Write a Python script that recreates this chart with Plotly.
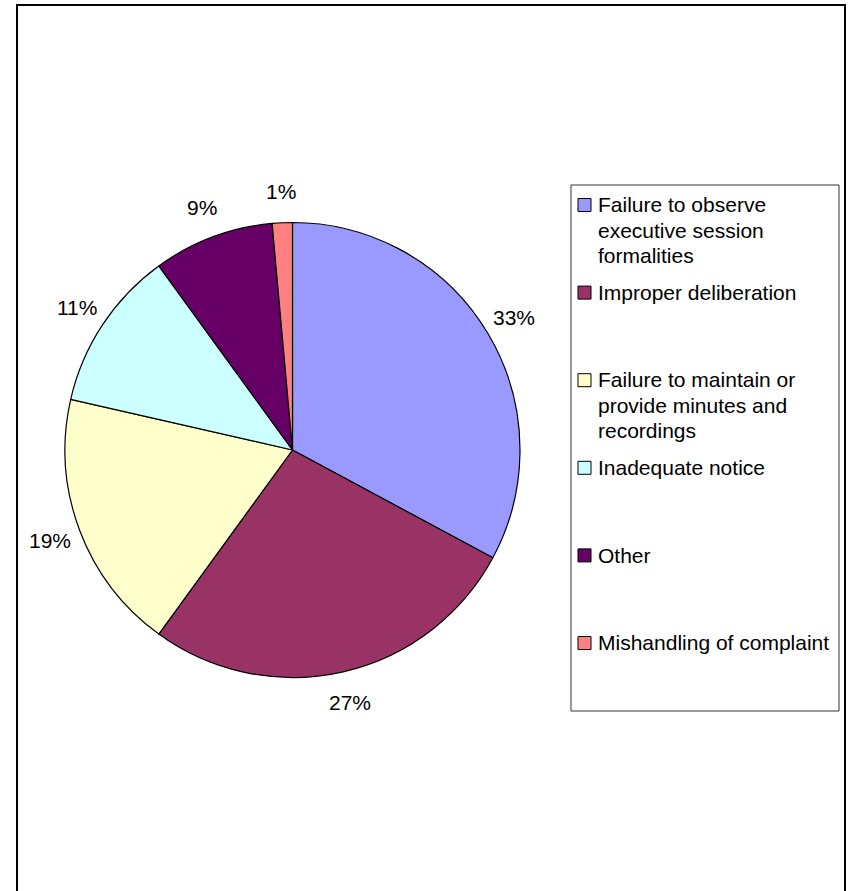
import math
import plotly.graph_objects as go

categories = [
    "Failure to observe<br>executive session<br>formalities",
    "Improper deliberation",
    "Failure to maintain or<br>provide minutes and<br>recordings",
    "Inadequate notice",
    "Other",
    "Mishandling of complaint",
]
counts = [23, 19, 13, 8, 6, 1]
colors = ["#9999FF", "#993366", "#FFFFCC", "#CCFFFF", "#660066", "#FF8080"]

W, H = 849, 891
FONT = "Arial, Liberation Sans, sans-serif"


def px(x):
    return x / W


def py(y):
    return 1 - y / H


cx, cy, r = 292.5, 450.0, 227.5

fig = go.Figure(
    go.Pie(
        labels=[c.replace("<br>", " ") for c in categories],
        values=counts,
        sort=False,
        direction="clockwise",
        rotation=0,
        marker=dict(colors=colors, line=dict(color="black", width=1.2)),
        textposition="none",
        hoverinfo="label+percent",
        showlegend=False,
        domain=dict(x=[px(cx - r), px(cx + r)], y=[py(cy + r), py(cy - r)]),
    )
)

annotations = []
shapes = []

# percentage labels placed outside each slice along its mid-angle
total = sum(counts)
cum = 0
label_dist = r + 31
for v in counts:
    mid = (cum + v / 2) / total * 2 * math.pi
    cum += v
    lx = cx + label_dist * math.sin(mid)
    ly = cy - label_dist * math.cos(mid)
    annotations.append(dict(
        x=px(lx), y=py(ly), xref="paper", yref="paper",
        text=f"{round(100 * v / total)}%", showarrow=False,
        xanchor="center", yanchor="middle",
        font=dict(family=FONT, size=21, color="black"),
    ))

# legend (boxed, evenly spaced entries like the original)
box_x0, box_y0, box_x1, box_y1 = 571, 185, 839, 711
shapes.append(dict(type="rect", xref="paper", yref="paper",
                   x0=px(box_x0), x1=px(box_x1), y0=py(box_y1), y1=py(box_y0),
                   line=dict(color="#333333", width=1), fillcolor="white", layer="above"))
first_base = 212.0
item_step = 87.6
line_step = 25.5
for i, (name, col) in enumerate(zip(categories, colors)):
    base = first_base + i * item_step
    shapes.append(dict(type="rect", xref="paper", yref="paper",
                       x0=px(578), x1=px(591), y0=py(base - 0.5), y1=py(base - 13.5),
                       line=dict(color="black", width=1), fillcolor=col, layer="above"))
    for j, line in enumerate(name.split("<br>")):
        b = base + j * line_step
        annotations.append(dict(
            x=px(596), y=py(b - 7.3), xref="paper", yref="paper",
            text=line, showarrow=False, xanchor="left", yanchor="middle",
            font=dict(family=FONT, size=21, color="black"),
        ))

# outer chart border
shapes.append(dict(type="rect", xref="paper", yref="paper",
                   x0=px(17), x1=px(845), y0=-0.02, y1=py(5),
                   line=dict(color="black", width=2), fillcolor="rgba(0,0,0,0)", layer="above"))

fig.update_layout(
    width=W,
    height=H,
    margin=dict(l=0, r=0, t=0, b=0),
    paper_bgcolor="white",
    plot_bgcolor="white",
    font=dict(family=FONT, size=21, color="black"),
    showlegend=False,
    annotations=annotations,
    shapes=shapes,
)

fig.write_html("out.html")
